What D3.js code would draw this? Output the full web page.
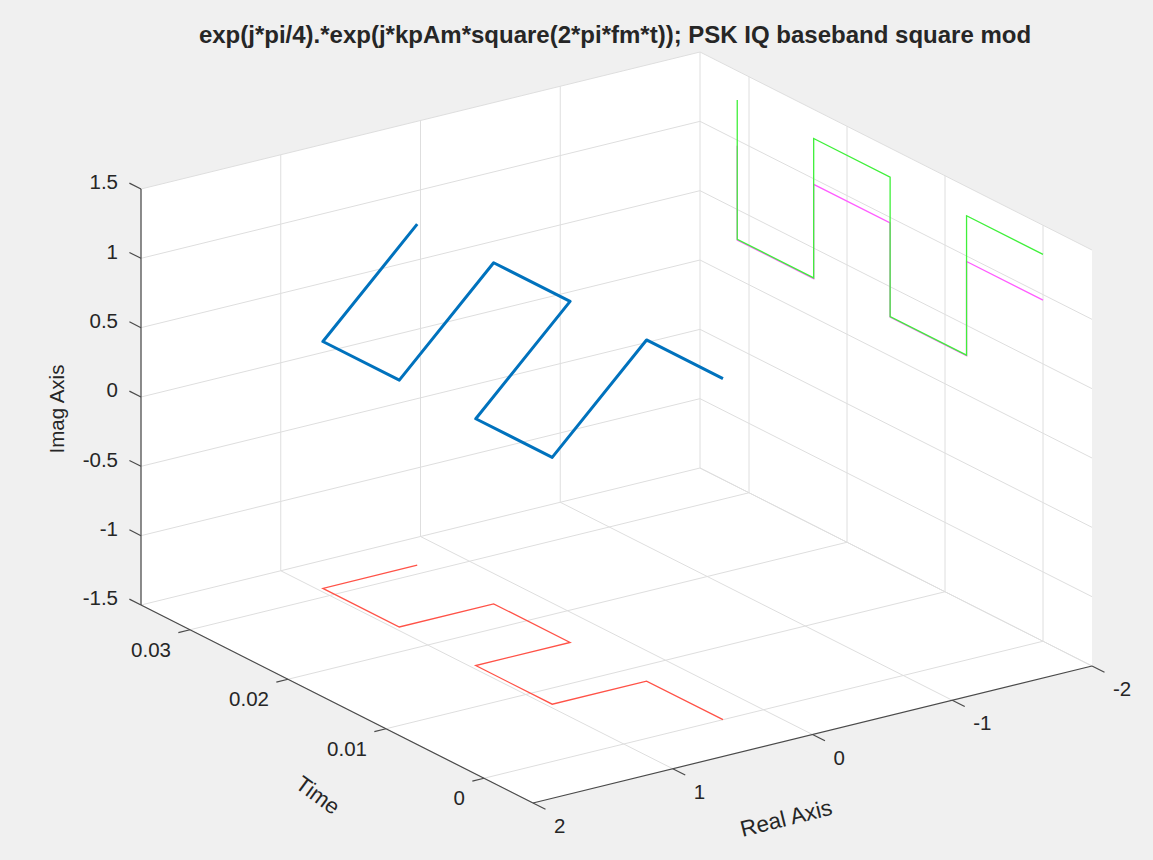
<!DOCTYPE html>
<html>
<head>
<meta charset="utf-8">
<script src="https://cdn.jsdelivr.net/npm/d3@7/dist/d3.min.js"></script>
<style>
body { margin: 0; background: #f0f0f0; }
text { font-family: "Liberation Sans", Arial, sans-serif; fill: #262626; }
</style>
</head>
<body>
<div id="chart"></div>
<script>
var w = 1153;
var h = 860;

// axis limits and tick values
var realLim = [-2, 2];
var timeLim = [-0.005, 0.035];
var imagLim = [-1.5, 1.5];
var realTicks = [-2, -1, 0, 1, 2];
var timeTicks = [0, 0.01, 0.02, 0.03];
var imagTicks = [-1.5, -1, -0.5, 0, 0.5, 1, 1.5];
var realTickLabels = ["-2", "-1", "0", "1", "2"];
var timeTickLabels = ["0", "0.01", "0.02", "0.03"];
var imagTickLabels = ["-1.5", "-1", "-0.5", "0", "0.5", "1", "1.5"];

// corners of the square modulated signal
var time = [0, 0.0078, 0.0078, 0.0156, 0.0156, 0.0234, 0.0234, 0.0312, 0.0312];
var realPart = [0.29, 0.29, 0.965, 0.965, 0.29, 0.29, 0.965, 0.965, 0.29];
var imagPart = [0.96, 0.96, 0.28, 0.28, 0.96, 0.96, 0.28, 0.28, 0.96];
var phase = [1.29, 1.29, 0.285, 0.285, 1.29, 1.29, 0.285, 0.285, 1.29];

// view: real runs 2 -> -2 to the right, time runs back-left, imag up
var xScale = d3.scaleLinear().domain([2, -2]).range([0, 1]);
var yScale = d3.scaleLinear().domain(timeLim).range([0, 1]);
var zScale = d3.scaleLinear().domain(imagLim).range([0, 1]);
var origin = [533, 803];
var uDir = [559, -137];     // screen span of the real axis
var vDir = [-392, -198];    // screen span of the time axis
var zSpan = 416;            // screen height of the imag axis

function proj(re, t, im) {
    var a = xScale(re), b = yScale(t), c = zScale(im);
    return [origin[0] + a * uDir[0] + b * vDir[0],
            origin[1] + a * uDir[1] + b * vDir[1] - c * zSpan];
}

function unit(v, len) {
    var n = Math.sqrt(v[0] * v[0] + v[1] * v[1]);
    return [v[0] / n * len, v[1] / n * len];
}

function init() {
    var rows = time.map(function(t, i) {
        return {t: t, re: realPart[i], im: imagPart[i], ph: phase[i]};
    });

    var svg = d3.select("#chart")
        .append("svg")
        .attr("width", w)
        .attr("height", h);

    var r0 = realLim[0], r1 = realLim[1];
    var t0 = timeLim[0], t1 = timeLim[1];
    var z0 = imagLim[0], z1 = imagLim[1];

    // the three back walls
    var walls = [
        [proj(r1, t0, z0), proj(r0, t0, z0), proj(r0, t1, z0), proj(r1, t1, z0)],
        [proj(r1, t1, z0), proj(r0, t1, z0), proj(r0, t1, z1), proj(r1, t1, z1)],
        [proj(r0, t0, z0), proj(r0, t1, z0), proj(r0, t1, z1), proj(r0, t0, z1)]
    ];
    svg.selectAll("polygon.wall")
        .data(walls)
        .enter().append("polygon")
        .attr("class", "wall")
        .attr("points", function(d) { return d.join(" "); })
        .attr("fill", "#ffffff");

    // grid lines
    var grid = [];
    realTicks.forEach(function(r) {
        grid.push([proj(r, t0, z0), proj(r, t1, z0)]);
        grid.push([proj(r, t1, z0), proj(r, t1, z1)]);
    });
    timeTicks.forEach(function(t) {
        grid.push([proj(r0, t, z0), proj(r1, t, z0)]);
        grid.push([proj(r0, t, z0), proj(r0, t, z1)]);
    });
    imagTicks.forEach(function(z) {
        grid.push([proj(r0, t1, z), proj(r1, t1, z)]);
        grid.push([proj(r0, t0, z), proj(r0, t1, z)]);
    });
    svg.selectAll("line.grid")
        .data(grid)
        .enter().append("line")
        .attr("class", "grid")
        .attr("x1", function(d) { return d[0][0]; })
        .attr("y1", function(d) { return d[0][1]; })
        .attr("x2", function(d) { return d[1][0]; })
        .attr("y2", function(d) { return d[1][1]; })
        .attr("stroke", "#dedede")
        .attr("stroke-width", 1);

    // projections on the floor and on the side wall
    function path3(fx, fy, fz) {
        return d3.line()
            .x(function(d) { return proj(fx(d), fy(d), fz(d))[0]; })
            .y(function(d) { return proj(fx(d), fy(d), fz(d))[1]; });
    }

    svg.append("path")
        .datum(rows)
        .attr("fill", "none")
        .attr("stroke", "#ff5247")
        .attr("stroke-width", 1.3)
        .attr("d", path3(function(d) { return d.re; }, function(d) { return d.t; }, function() { return z0; }));

    svg.append("path")
        .datum(rows)
        .attr("fill", "none")
        .attr("stroke", "#ff5cff")
        .attr("stroke-width", 1.3)
        .attr("d", path3(function() { return r0; }, function(d) { return d.t; }, function(d) { return d.im; }));

    svg.append("path")
        .datum(rows)
        .attr("fill", "none")
        .attr("stroke", "#3ff03a")
        .attr("stroke-width", 1.3)
        .attr("d", path3(function() { return r0; }, function(d) { return d.t; }, function(d) { return d.ph; }));

    // the IQ trajectory itself
    svg.append("path")
        .datum(rows)
        .attr("fill", "none")
        .attr("stroke", "#0072bd")
        .attr("stroke-width", 3)
        .attr("stroke-linejoin", "round")
        .attr("d", path3(function(d) { return d.re; }, function(d) { return d.t; }, function(d) { return d.im; }));

    // axis lines
    var axisColor = "#4a4a4a";
    var axes = [
        [proj(r1, t1, z0), proj(r1, t1, z1)],
        [proj(r1, t0, z0), proj(r1, t1, z0)],
        [proj(r1, t0, z0), proj(r0, t0, z0)]
    ];
    svg.selectAll("line.axis")
        .data(axes)
        .enter().append("line")
        .attr("class", "axis")
        .attr("x1", function(d) { return d[0][0]; })
        .attr("y1", function(d) { return d[0][1]; })
        .attr("x2", function(d) { return d[1][0]; })
        .attr("y2", function(d) { return d[1][1]; })
        .attr("stroke", axisColor)
        .attr("stroke-width", 1.2);

    var zTick = unit(vDir, 13);
    var tTick = unit([-uDir[0], -uDir[1]], 12);
    var rTick = unit([-vDir[0], -vDir[1]], 14);
    var tickFont = 20.5;

    // imag axis ticks
    var zt = svg.append("g");
    imagTicks.forEach(function(z, i) {
        var p = proj(r1, t1, z);
        zt.append("line")
            .attr("x1", p[0]).attr("y1", p[1])
            .attr("x2", p[0] + zTick[0]).attr("y2", p[1] + zTick[1])
            .attr("stroke", axisColor).attr("stroke-width", 1.2);
        zt.append("text")
            .attr("x", p[0] - 23)
            .attr("y", p[1] - 7)
            .attr("dy", "0.35em")
            .attr("text-anchor", "end")
            .attr("font-size", tickFont)
            .text(imagTickLabels[i]);
    });

    // time axis ticks
    var tt = svg.append("g");
    timeTicks.forEach(function(t, i) {
        var p = proj(r1, t, z0);
        tt.append("line")
            .attr("x1", p[0]).attr("y1", p[1])
            .attr("x2", p[0] + tTick[0]).attr("y2", p[1] + tTick[1])
            .attr("stroke", axisColor).attr("stroke-width", 1.2);
        tt.append("text")
            .attr("x", p[0] - 19)
            .attr("y", p[1] + 20)
            .attr("dy", "0.35em")
            .attr("text-anchor", "end")
            .attr("font-size", tickFont)
            .text(timeTickLabels[i]);
    });

    // real axis ticks
    var rt = svg.append("g");
    realTicks.forEach(function(r, i) {
        var p = proj(r, t0, z0);
        rt.append("line")
            .attr("x1", p[0]).attr("y1", p[1])
            .attr("x2", p[0] + rTick[0]).attr("y2", p[1] + rTick[1])
            .attr("stroke", axisColor).attr("stroke-width", 1.2);
        rt.append("text")
            .attr("x", p[0] + 21)
            .attr("y", p[1] + 23)
            .attr("dy", "0.35em")
            .attr("text-anchor", "start")
            .attr("font-size", tickFont)
            .text(realTickLabels[i]);
    });

    // axis titles
    svg.append("text")
        .attr("transform", "translate(57,409) rotate(-90)")
        .attr("text-anchor", "middle")
        .attr("dy", "0.35em")
        .attr("font-size", 20.5)
        .text("Imag Axis");

    svg.append("text")
        .attr("transform", "translate(318,795) rotate(36)")
        .attr("text-anchor", "middle")
        .attr("dy", "0.35em")
        .attr("font-size", 22)
        .text("Time");

    svg.append("text")
        .attr("transform", "translate(786,818) rotate(-14)")
        .attr("text-anchor", "middle")
        .attr("dy", "0.35em")
        .attr("font-size", 22.5)
        .text("Real Axis");

    svg.append("text")
        .attr("x", 615)
        .attr("y", 35)
        .attr("dy", "0.35em")
        .attr("text-anchor", "middle")
        .attr("font-size", 24)
        .attr("font-weight", "bold")
        .text("exp(j*pi/4).*exp(j*kpAm*square(2*pi*fm*t)); PSK IQ baseband square mod");
}

init();
</script>
</body>
</html>
